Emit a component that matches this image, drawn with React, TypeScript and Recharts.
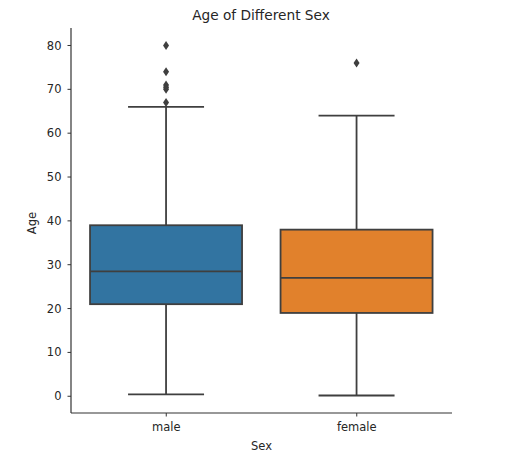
import { ComposedChart, Bar, XAxis, YAxis, Label } from 'recharts'

// box statistics
const categories = ['male', 'female']
const lowerWhisker = [0.42, 0.17]
const q1 = [21, 19]
const median = [28.5, 27]
const q3 = [39, 38]
const upperWhisker = [66, 64]
const outliers = [
  [80, 74, 71, 70.5, 70, 67],
  [76],
]
const boxColors = ['#3274a1', '#e1812c']
const yTicks = [0, 10, 20, 30, 40, 50, 60, 70, 80]

const data = categories.map((sex, i) => ({
  sex,
  lo: lowerWhisker[i],
  q1: q1[i],
  med: median[i],
  q3: q3[i],
  hi: upperWhisker[i],
  out: outliers[i],
  color: boxColors[i],
}))

const EDGE = '#3f3f3f'
const FONT = 'DejaVu Sans, sans-serif'

function BoxShape(props: any) {
  const { x, y, width, height, payload } = props
  const top = Math.min(y, y + height)
  const h = Math.abs(height)
  const perUnit = h / (payload.q3 - payload.q1)
  const py = (v: number) => top + (payload.q3 - v) * perUnit
  const cx = x + width / 2
  const capHalf = width / 4
  return (
    <g>
      <line x1={cx} x2={cx} y1={py(payload.q3)} y2={py(payload.hi)} stroke={EDGE} strokeWidth={1.8} />
      <line x1={cx} x2={cx} y1={py(payload.q1)} y2={py(payload.lo)} stroke={EDGE} strokeWidth={1.8} />
      <line x1={cx - capHalf} x2={cx + capHalf} y1={py(payload.hi)} y2={py(payload.hi)} stroke={EDGE} strokeWidth={1.8} />
      <line x1={cx - capHalf} x2={cx + capHalf} y1={py(payload.lo)} y2={py(payload.lo)} stroke={EDGE} strokeWidth={1.8} />
      <rect x={x} y={top} width={width} height={h} fill={payload.color} stroke={EDGE} strokeWidth={1.8} />
      <line x1={x} x2={x + width} y1={py(payload.med)} y2={py(payload.med)} stroke={EDGE} strokeWidth={1.8} />
      {payload.out.map((v: number, k: number) => {
        const oy = py(v)
        return (
          <path
            key={k}
            d={`M${cx},${oy - 4.5} L${cx + 3},${oy} L${cx},${oy + 4.5} L${cx - 3},${oy} Z`}
            fill={EDGE}
          />
        )
      })}
    </g>
  )
}

export default function App() {
  return (
    <div style={{ position: 'absolute', left: 0, top: 0, background: '#fff' }}>
      <ComposedChart
        width={515}
        height={463}
        data={data}
        margin={{ top: 28, right: 63, bottom: 0, left: 0 }}
        barCategoryGap="10%"
      >
        <text x={261} y={20} textAnchor="middle" fontFamily={FONT} fontSize={13.7} fill="#262626">
          Age of Different Sex
        </text>
        <text
          x={36}
          y={223}
          transform="rotate(-90 36 223)"
          textAnchor="middle"
          fontFamily={FONT}
          fontSize={11.5}
          fill="#262626"
        >
          Age
        </text>
        <XAxis
          dataKey="sex"
          height={50}
          tick={{ fill: '#262626', fontSize: 11.5, fontFamily: FONT }}
          tickSize={3.5}
          tickMargin={6.5}
          tickLine={{ stroke: '#333' }}
          axisLine={{ stroke: '#333', strokeWidth: 1.2 }}
        >
          <Label value="Sex" position="insideBottom" offset={13} fill="#262626" fontSize={11.5} fontFamily={FONT} />
        </XAxis>
        <YAxis
          width={71}
          type="number"
          domain={[-3.82, 83.99]}
          ticks={yTicks}
          allowDataOverflow
          tick={{ fill: '#262626', fontSize: 11.5, fontFamily: FONT }}
          tickSize={3.5}
          tickMargin={6}
          tickLine={{ stroke: '#333' }}
          axisLine={{ stroke: '#333', strokeWidth: 1.2 }}
        />
        <Bar
          dataKey={(d: any) => [d.q1, d.q3]}
          shape={BoxShape}
          isAnimationActive={false}
        />
      </ComposedChart>
    </div>
  )
}
